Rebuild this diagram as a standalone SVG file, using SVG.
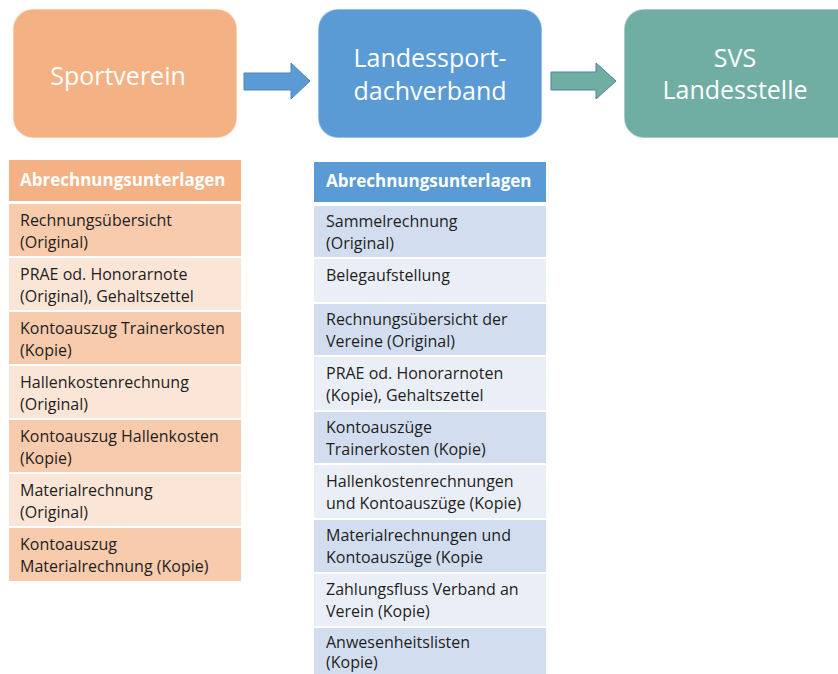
<svg xmlns="http://www.w3.org/2000/svg" width="838" height="674" viewBox="0 0 838 674">
<style>
text{font-family:"Open Sans","Liberation Sans",sans-serif}
.big{font-size:25px;fill:#fff;text-anchor:middle}
.hd{font-size:17px;font-weight:bold;fill:#fff}
.t{font-size:16px;fill:#1e1e1e}
.box{stroke:#fff;stroke-opacity:.5;stroke-width:1.5}
</style>
<rect width="838" height="674" fill="#fff"/>
<g id="sportverein">
<rect class="box" x="13" y="9" width="224" height="129" rx="20" fill="#F4B183"/>
<text class="big" x="118" y="85">Sportverein</text>
</g>
<g id="landessportdachverband">
<rect class="box" x="318" y="9" width="224" height="129" rx="20" fill="#5B9BD5"/>
<text class="big" x="430" y="67">Landessport-</text>
<text class="big" x="430" y="100">dachverband</text>
</g>
<g id="svs">
<rect class="box" x="624" y="9" width="234" height="129" rx="20" fill="#70AEA3"/>
<text class="big" x="735" y="67">SVS</text>
<text class="big" x="735" y="99">Landesstelle</text>
</g>
<g id="connectors">
<polygon points="244,73 291,73 291,63 310,81 291,99 291,90 244,90" fill="#5B9BD5" stroke="#4A86BE" stroke-width="1"/>
<polygon points="551,72 596,72 596,63 616,81 596,99 596,90 551,90" fill="#70AEA3" stroke="#4F7FA6" stroke-width="1"/>
</g>
<g id="table-sportverein">
<rect x="9" y="160" width="232" height="41" fill="#F4B183"/>
<text class="hd" x="20" y="186">Abrechnungsunterlagen</text>
<rect x="9" y="204" width="232" height="52" fill="#F8CBAD"/>
<text class="t" x="20" y="226">Rechnungsübersicht</text>
<text class="t" x="20" y="248">(Original)</text>
<rect x="9" y="258" width="232" height="52" fill="#FBE5D6"/>
<text class="t" x="20" y="280">PRAE od. Honorarnote</text>
<text class="t" x="20" y="302">(Original), Gehaltszettel</text>
<rect x="9" y="312" width="232" height="52" fill="#F8CBAD"/>
<text class="t" x="20" y="334">Kontoauszug Trainerkosten</text>
<text class="t" x="20" y="356">(Kopie)</text>
<rect x="9" y="366" width="232" height="52" fill="#FBE5D6"/>
<text class="t" x="20" y="388">Hallenkostenrechnung</text>
<text class="t" x="20" y="410">(Original)</text>
<rect x="9" y="420" width="232" height="52" fill="#F8CBAD"/>
<text class="t" x="20" y="442">Kontoauszug Hallenkosten</text>
<text class="t" x="20" y="464">(Kopie)</text>
<rect x="9" y="474" width="232" height="52" fill="#FBE5D6"/>
<text class="t" x="20" y="496">Materialrechnung</text>
<text class="t" x="20" y="518">(Original)</text>
<rect x="9" y="528" width="232" height="53" fill="#F8CBAD"/>
<text class="t" x="20" y="550">Kontoauszug</text>
<text class="t" x="20" y="572">Materialrechnung (Kopie)</text>
</g>
<g id="table-verband">
<rect x="314" y="162" width="232" height="40" fill="#5B9BD5"/>
<text class="hd" x="326" y="187">Abrechnungsunterlagen</text>
<rect x="314" y="206" width="232" height="51" fill="#D2DEEF"/>
<text class="t" x="326" y="227">Sammelrechnung</text>
<text class="t" x="326" y="249">(Original)</text>
<rect x="314" y="259" width="232" height="43" fill="#EAEFF7"/>
<text class="t" x="326" y="281">Belegaufstellung</text>
<rect x="314" y="304" width="232" height="51" fill="#D2DEEF"/>
<text class="t" x="326" y="325">Rechnungsübersicht der</text>
<text class="t" x="326" y="347">Vereine (Original)</text>
<rect x="314" y="357" width="232" height="53" fill="#EAEFF7"/>
<text class="t" x="326" y="379">PRAE od. Honorarnoten</text>
<text class="t" x="326" y="401">(Kopie), Gehaltszettel</text>
<rect x="314" y="412" width="232" height="51" fill="#D2DEEF"/>
<text class="t" x="326" y="433">Kontoauszüge</text>
<text class="t" x="326" y="455">Trainerkosten (Kopie)</text>
<rect x="314" y="465" width="232" height="53" fill="#EAEFF7"/>
<text class="t" x="326" y="487">Hallenkostenrechnungen</text>
<text class="t" x="326" y="509">und Kontoauszüge (Kopie)</text>
<rect x="314" y="520" width="232" height="52" fill="#D2DEEF"/>
<text class="t" x="326" y="541">Materialrechnungen und</text>
<text class="t" x="326" y="563">Kontoauszüge (Kopie</text>
<rect x="314" y="574" width="232" height="52" fill="#EAEFF7"/>
<text class="t" x="326" y="595">Zahlungsfluss Verband an</text>
<text class="t" x="326" y="617">Verein (Kopie)</text>
<rect x="314" y="628" width="232" height="46" fill="#D2DEEF"/>
<text class="t" x="326" y="648">Anwesenheitslisten</text>
<text class="t" x="326" y="668">(Kopie)</text>
</g>
</svg>
